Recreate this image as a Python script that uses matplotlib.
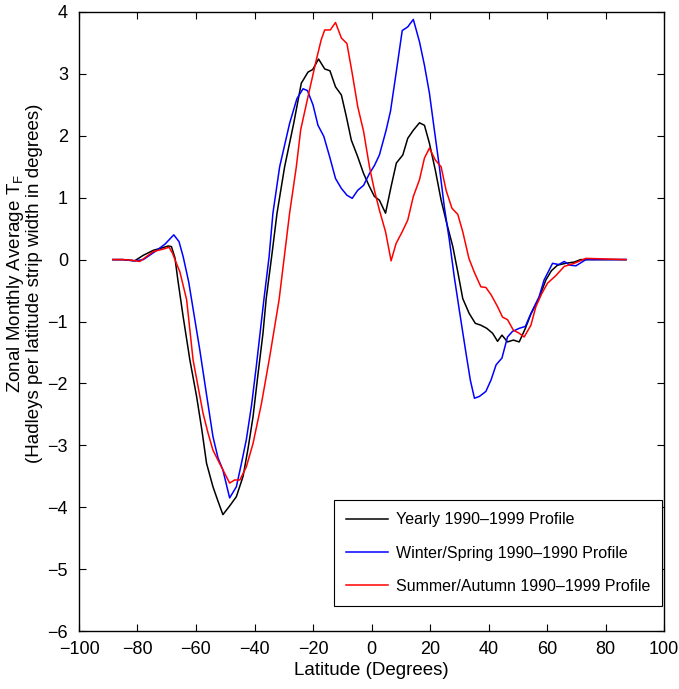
import numpy as np
import matplotlib
matplotlib.use("Agg")
import matplotlib.pyplot as plt

plt.rcParams['font.family'] = ['Liberation Sans', 'DejaVu Sans']

# Profilo annuale 1990-1999 (nero)
lat_anno = [-88.4, -85, -81, -78, -74.6, -71.5, -69.5, -68.4, -67.2, -66.2, -64.4, -62.1,
            -59.8, -58, -56.4, -54.2, -52.5, -50.8, -48.5, -46.2, -43.9, -42.2, -40.5,
            -38.8, -37.1, -36, -34, -32.3, -29.7, -26.6, -24, -21.7, -20.1, -18.1, -16,
            -14.2, -12.3, -10.3, -8.6, -6.9, -4.7, -2.7, -0.7, 1, 2.7, 4.8, 6.7, 8.5,
            10.7, 12.4, 14.3, 16.4, 18.1, 19.8, 21.8, 23.8, 25.7, 27.8, 29.5, 31.2, 33.4,
            35.5, 37.4, 39.4, 41.4, 43.1, 44.6, 46.5, 48.5, 50.5, 52.6, 54.5, 57.3, 59.6,
            61.5, 63.6, 66.4, 69.3, 71.5, 75, 80, 87]
val_anno = [0.0, 0.0, -0.02, 0.07, 0.15, 0.19, 0.22, 0.21, 0.03, -0.33, -0.92, -1.62,
            -2.21, -2.75, -3.29, -3.67, -3.90, -4.12, -3.98, -3.83, -3.5, -3.05, -2.54,
            -1.85, -1.19, -0.63, 0.1, 0.75, 1.5, 2.2, 2.85, 3.03, 3.07, 3.24, 3.08,
            3.05, 2.79, 2.66, 2.31, 1.93, 1.66, 1.39, 1.18, 1.02, 0.96, 0.75, 1.18, 1.56,
            1.69, 1.96, 2.09, 2.21, 2.17, 1.88, 1.45, 0.96, 0.59, 0.21, -0.2, -0.63, -0.87,
            -1.03, -1.06, -1.11, -1.19, -1.32, -1.22, -1.33, -1.30, -1.33, -1.11, -0.88, -0.62, -0.33,
            -0.18, -0.09, -0.06, -0.04, 0.0, 0.0, 0.0, 0.0]

# Inverno/primavera (blu)
lat_inv = [-88.4, -85, -80.9, -78, -74, -70.6, -67.6, -65.8, -64.4, -62.5, -58.7, -56.5,
           -54.2, -52.5, -50.8, -48.5, -46.2, -44.5, -42.8, -41, -39.4, -36.8, -35, -33.7,
           -31.4, -28, -25.5, -23.4, -21.9, -20, -18.3, -16.3, -14.3, -12.3, -10.3, -8.4,
           -6.6, -4.7, -2.7, -0.7, 1, 2.7, 5, 6.5, 8.4, 10.5, 12.4, 14.3, 16.4, 18.1, 19.8,
           21.5, 23.2, 24.9, 26.6, 28.3, 30, 32.3, 33.8, 35.2, 36.9, 39.1, 40.9, 42.6, 44.6,
           46.5, 48.2, 50.5, 52.6, 54.5, 57.3, 59, 61.9, 64, 65.9, 67.8, 69.9, 73.3, 80, 87]
val_inv = [0.0, 0.0, -0.02, 0.0, 0.13, 0.25, 0.4, 0.29, 0.05, -0.36, -1.46, -2.15,
           -2.86, -3.2, -3.4, -3.85, -3.67, -3.3, -2.91, -2.35, -1.73, -0.65, 0.05, 0.75,
           1.5, 2.2, 2.6, 2.76, 2.73, 2.5, 2.17, 1.99, 1.66, 1.31, 1.15, 1.04,
           0.99, 1.12, 1.2, 1.39, 1.52, 1.69, 2.09, 2.40, 3.01, 3.70, 3.76, 3.88, 3.52, 3.14, 2.69,
           2.09, 1.5, 0.85, 0.32, -0.28, -0.81, -1.51, -1.95, -2.24, -2.21, -2.13, -1.94, -1.70, -1.59,
           -1.25, -1.16, -1.11, -1.08, -0.87, -0.6, -0.33, -0.06, -0.08, -0.03, -0.09, -0.10, 0.0, 0.0, 0.0]

# Estate/autunno (rosso)
lat_est = [-88.4, -85, -82, -79.2, -74.6, -71.2, -69.2, -68, -66.7, -65.5, -63.2, -61,
           -59.3, -57.6, -55.9, -54.2, -51.3, -48.5, -46.8, -45, -42.8, -40.5, -37.6, -34.8,
           -31.6, -28, -25.7, -24.2, -21.2, -18.9, -17.2, -16, -14.1, -12.3, -10.3, -8.4,
           -6.6, -4.7, -2.7, -0.7, 1, 2.7, 4.8, 6.7, 8.4, 10.5, 12.4, 14.3, 16.4, 18.1, 19.8,
           21.8, 23.8, 25.5, 27.5, 29.5, 31.2, 33.3, 35.2, 37.4, 39.1, 40.9, 43.1, 44.8, 46.5,
           48.5, 50.5, 52.2, 54.5, 56.2, 58.2, 60.2, 63, 65.9, 69.3, 73.3, 80, 87]
val_est = [0.0, 0.0, -0.01, -0.03, 0.13, 0.17, 0.2, 0.1, -0.06, -0.2, -0.65, -1.62,
           -2.05, -2.48, -2.8, -3.08, -3.35, -3.61, -3.56, -3.56, -3.35, -2.97, -2.32, -1.57,
           -0.65, 0.75, 1.5, 2.1, 2.74, 3.22, 3.55, 3.71, 3.71, 3.83, 3.58, 3.49,
           3.01, 2.47, 2.07, 1.5, 1.12, 0.8, 0.45, -0.02, 0.26, 0.45, 0.64, 1.02, 1.29, 1.64, 1.8,
           1.61, 1.5, 1.12, 0.83, 0.73, 0.45, 0.02, -0.21, -0.44, -0.45, -0.57, -0.76, -0.93, -0.97,
           -1.14, -1.19, -1.25, -1.06, -0.76, -0.55, -0.38, -0.26, -0.11, -0.06, 0.02, 0.01, 0.0]

etichette = ["Yearly 1990\u20131999 Profile",
             "Winter/Spring 1990\u20131990 Profile",
             "Summer/Autumn 1990\u20131999 Profile"]

fig = plt.figure(figsize=(6.79, 6.89), dpi=100)
ax = fig.add_axes([79 / 679, 1 - 631 / 689, (664 - 79) / 679, (631 - 12) / 689])

ax.plot(lat_anno, val_anno, color="k", linewidth=1.1, label=etichette[0])
ax.plot(lat_inv, val_inv, color="#0000ff", linewidth=1.1, label=etichette[1])
ax.plot(lat_est, val_est, color="#ff0000", linewidth=1.1, label=etichette[2])

ax.set_xlim(-100, 100)
ax.set_ylim(-6, 4)
ax.set_xticks(np.arange(-100, 101, 20))
ax.set_yticks(np.arange(-6, 5, 1))
ax.tick_params(direction="in", top=True, right=True, labelsize=13, length=5, width=0.8)
ax.tick_params(axis="x", pad=7)
ax.tick_params(axis="y", pad=8)
for s in ax.spines.values():
    s.set_linewidth(1.0)

ax.set_xlabel("Latitude (Degrees)", fontsize=13.5, labelpad=3)
ax.set_ylabel("Zonal Monthly Average T$_\\mathregular{F}$\n(Hadleys per latitude strip width in degrees)",
              fontsize=13.5, linespacing=1.0)
ax.yaxis.set_label_coords(-0.062, 0.562)

leg = ax.legend(loc="lower right", fontsize=11.5, fancybox=False, edgecolor="k",
                framealpha=1, handlelength=2.6, handletextpad=0.5, borderpad=0.75,
                labelspacing=1.15, borderaxespad=0, bbox_to_anchor=(0.9966, 0.0404))
leg.get_frame().set_linewidth(0.8)

plt.savefig("out.png", dpi=100)
